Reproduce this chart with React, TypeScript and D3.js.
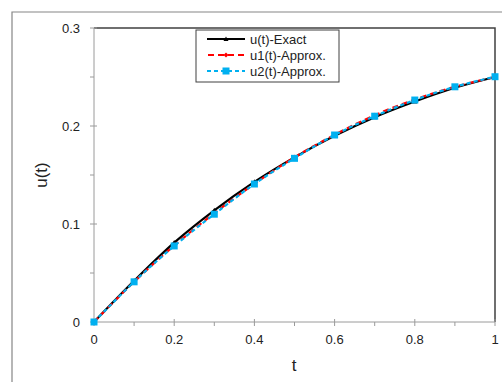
import React from "react";
import * as d3 from "d3";

// data
const tValues = [0, 0.1, 0.2, 0.3, 0.4, 0.5, 0.6, 0.7, 0.8, 0.9, 1.0];
const exactValues = [0, 0.042, 0.081, 0.114, 0.143, 0.168, 0.19, 0.209, 0.225, 0.239, 0.25];
const u1Values = [0, 0.041, 0.078, 0.111, 0.141, 0.168, 0.191, 0.211, 0.227, 0.24, 0.25];
const u2Values = [0, 0.041, 0.0776, 0.11, 0.1408, 0.167, 0.1908, 0.21, 0.2265, 0.24, 0.2503];
const xTicks = [0, 0.2, 0.4, 0.6, 0.8, 1];
const xMinorTicks = [0.1, 0.3, 0.5, 0.7, 0.9];
const yTicks = [0, 0.1, 0.2, 0.3];
const yMinorTicks = [0.05, 0.15, 0.25];
const seriesNames = ["u(t)-Exact", "u1(t)-Approx.", "u2(t)-Approx."];

const FONT = "'Liberation Sans', Arial, sans-serif";

const margin = { top: 28, right: 7, bottom: 60, left: 94 };
const W = 502;
const H = 382;

const App = () => {
  const x = d3
    .scaleLinear()
    .domain([0, 1])
    .range([margin.left, W - margin.right]);
  const y = d3
    .scaleLinear()
    .domain([0, 0.3])
    .range([H - margin.bottom, margin.top]);

  // smoothed lines like the spreadsheet original
  const line = d3
    .line<number>()
    .x((_, i) => x(tValues[i]))
    .y((d) => y(d))
    .curve(d3.curveCatmullRom.alpha(0.5));

  const x0 = x(0);
  const x1 = x(1);
  const y0 = y(0);
  const y1 = y(0.3);

  const triangle = (cx: number, cy: number, s: number) =>
    `M${cx},${cy - s} L${cx + s},${cy + s * 0.8} L${cx - s},${cy + s * 0.8} Z`;
  const diamond = (cx: number, cy: number, s: number) =>
    `M${cx},${cy - s} L${cx + s},${cy} L${cx},${cy + s} L${cx - s},${cy} Z`;

  const legendX = 196;
  const legendY = 30;
  const rowY = [39, 55, 71];

  return (
    <svg
      width={W}
      height={H}
      style={{ position: "absolute", left: 0, top: 0, background: "#fff" }}
    >
      {/* chart area border (runs off the picture) */}
      <path d={`M12,${H + 2} V12 H${W + 2}`} fill="none" stroke="#868686" strokeWidth={1.2} />

      {/* plot area top/right border */}
      <path d={`M${x0},${y1} H${x1} V${y0}`} fill="none" stroke="#404040" strokeWidth={1.5} />

      {/* axes */}
      <line x1={x0} x2={x0} y1={y1} y2={y0} stroke="#9a9a9a" />
      <line x1={x0} x2={x1} y1={y0} y2={y0} stroke="#9a9a9a" />

      {yTicks.map((t) => (
        <g key={"y" + t}>
          <line x1={x0 - 4} x2={x0 + 3} y1={y(t)} y2={y(t)} stroke="#9a9a9a" />
          <text
            x={80}
            y={y(t)}
            textAnchor="end"
            dominantBaseline="central"
            fontFamily={FONT}
            fontSize={13}
            fill="#222"
          >
            {t}
          </text>
        </g>
      ))}
      {yMinorTicks.map((t) => (
        <line key={"ym" + t} x1={x0 - 4} x2={x0} y1={y(t)} y2={y(t)} stroke="#9a9a9a" />
      ))}
      {xTicks.map((t) => (
        <g key={"x" + t}>
          <line x1={x(t)} x2={x(t)} y1={y0 - 3} y2={y0 + 4} stroke="#9a9a9a" />
          <text
            x={x(t)}
            y={339}
            textAnchor="middle"
            dominantBaseline="central"
            fontFamily={FONT}
            fontSize={13}
            fill="#222"
          >
            {t}
          </text>
        </g>
      ))}
      {xMinorTicks.map((t) => (
        <line key={"xm" + t} x1={x(t)} x2={x(t)} y1={y0} y2={y0 + 4} stroke="#9a9a9a" />
      ))}

      {/* axis titles */}
      <text
        x={294}
        y={365}
        textAnchor="middle"
        dominantBaseline="central"
        fontFamily={FONT}
        fontSize={17}
        fill="#222"
      >
        t
      </text>
      <text
        transform={`translate(41,175) rotate(-90)`}
        textAnchor="middle"
        dominantBaseline="central"
        fontFamily={FONT}
        fontSize={17}
        fill="#222"
      >
        u(t)
      </text>

      {/* series */}
      <path d={line(exactValues) || ""} fill="none" stroke="#000" strokeWidth={2.2} />
      {exactValues.map((v, i) => (
        <path key={"e" + i} d={triangle(x(tValues[i]), y(v), 2.5)} fill="#000" />
      ))}
      <path
        d={line(u1Values) || ""}
        fill="none"
        stroke="#ff0000"
        strokeWidth={2.2}
        strokeDasharray="6,4"
      />
      {u1Values.map((v, i) => (
        <path key={"r" + i} d={diamond(x(tValues[i]), y(v), 2.5)} fill="#ff0000" />
      ))}
      <path
        d={line(u2Values) || ""}
        fill="none"
        stroke="#00b0f0"
        strokeWidth={2.2}
        strokeDasharray="4,3"
      />
      {u2Values.map((v, i) => (
        <rect
          key={"b" + i}
          x={x(tValues[i]) - 3.5}
          y={y(v) - 3.5}
          width={7}
          height={7}
          fill="#00b0f0"
        />
      ))}

      {/* legend */}
      <rect
        x={legendX}
        y={legendY}
        width={143}
        height={52}
        fill="#fff"
        stroke="#404040"
        strokeWidth={1}
      />
      <line x1={207} x2={245} y1={rowY[0]} y2={rowY[0]} stroke="#000" strokeWidth={2.2} />
      <path d={triangle(226, rowY[0], 2.5)} fill="#000" />
      <line
        x1={207}
        x2={245}
        y1={rowY[1]}
        y2={rowY[1]}
        stroke="#ff0000"
        strokeWidth={2.2}
        strokeDasharray="6,4"
        strokeDashoffset={-1}
      />
      <path d={diamond(226, rowY[1], 2.5)} fill="#ff0000" />
      <line
        x1={207}
        x2={245}
        y1={rowY[2]}
        y2={rowY[2]}
        stroke="#00b0f0"
        strokeWidth={2.2}
        strokeDasharray="4,3"
      />
      <rect x={222.5} y={rowY[2] - 3.5} width={7} height={7} fill="#00b0f0" />
      {seriesNames.map((name, i) => (
        <text
          key={name}
          x={250}
          y={rowY[i]}
          dominantBaseline="central"
          fontFamily={FONT}
          fontSize={13}
          fill="#222"
        >
          {name}
        </text>
      ))}
    </svg>
  );
};

export default App;
